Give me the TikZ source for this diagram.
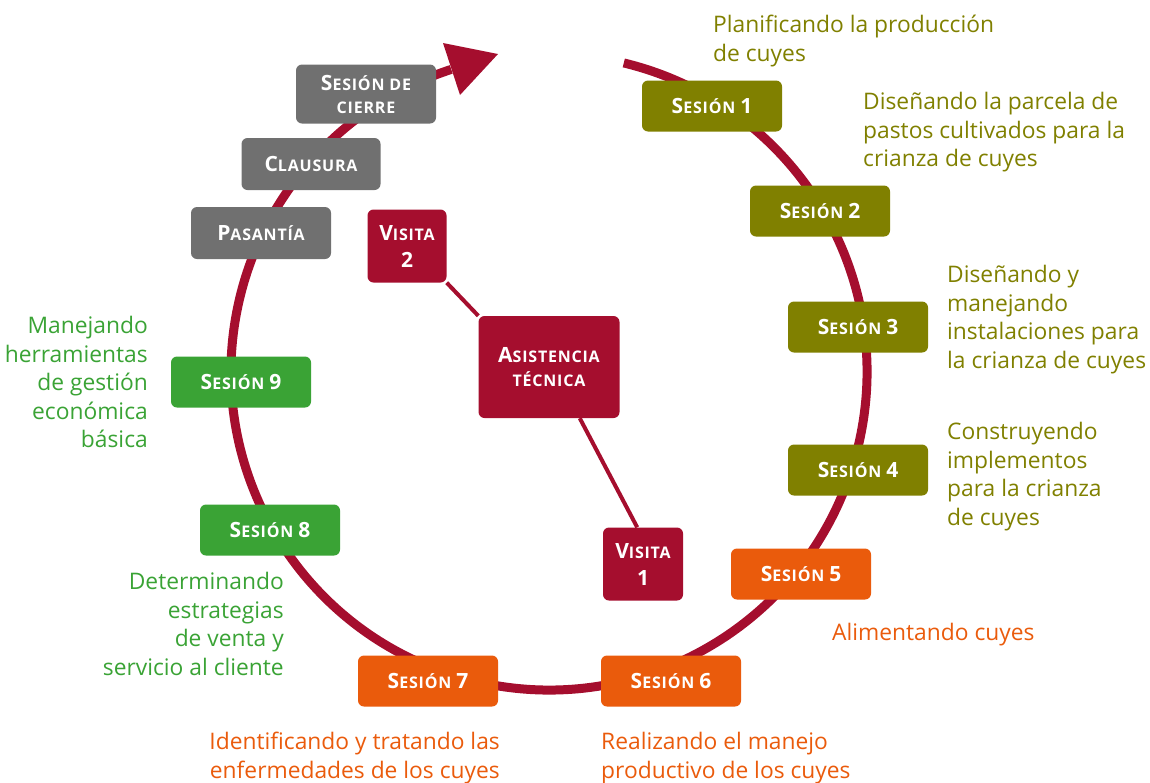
\documentclass[tikz,border=0pt]{standalone}
\usepackage{fontspec}
\setmainfont{Open Sans}
\newfontfamily\boxfont{Open Sans}[LetterSpace=5]
\usetikzlibrary{calc}
\pgfdeclarelayer{background}
\pgfsetlayers{background,main}
\definecolor{crim}{RGB}{165,14,46}
\definecolor{olivec}{RGB}{128,128,0}
\definecolor{orangec}{RGB}{234,91,12}
\definecolor{greenc}{RGB}{58,163,53}
\definecolor{grayc}{RGB}{112,112,112}
\newcommand\scA[1]{{\fontsize{21}{23}\selectfont #1}}
\newcommand\scB[1]{{\fontsize{16}{23}\selectfont #1}}
\begin{document}
\begin{tikzpicture}[x=1pt,y=-1pt,
  box/.style={rounded corners=6pt, minimum width=140pt, minimum height=51pt,
    text=white, align=center, inner sep=0pt, font=\boxfont\bfseries\fontsize{16}{23}\selectfont},
  sesbox/.style={box, fill=#1},
  visbox/.style={box, fill=crim, minimum width=80pt, minimum height=73pt, font=\boxfont\bfseries\fontsize{16}{27}\selectfont},
  lab/.style={inner sep=0pt, text=#1, font=\fontsize{22.8}{28.5}\selectfont},
  labl/.style={lab=#1, align=left, anchor=north west},
  labr/.style={lab=#1, align=right, anchor=north east},
  cyc/.style={draw=crim, line width=9pt},
  conn/.style={draw=crim, line width=4pt}]
\useasboundingbox (0,0) rectangle (1150,782);

% boxes
\node[sesbox=grayc, minimum height=59pt] (cierre) at (366,94) {\scA{S}\scB{ESIÓN DE}\\\scB{CIERRE}};
\node[sesbox=grayc, minimum width=139pt, minimum height=52pt] (clausura) at (311,164) {\scA{C}\scB{LAUSURA}};
\node[sesbox=grayc, minimum height=52pt] (pasantia) at (261,233) {\scA{P}\scB{ASANTÍA}};
\node[visbox, minimum width=79pt] (v2) at (407,246) {\scA{V}\scB{ISITA}\\\scA{2}};
\node[box, fill=crim, minimum width=141pt, minimum height=102pt, font=\boxfont\bfseries\fontsize{16}{24}\selectfont] (at) at (549,367) {\scA{A}\scB{SISTENCIA}\\\scB{TÉCNICA}};
\node[visbox] (v1) at (643,564) {\scA{V}\scB{ISITA}\\\scA{1}};

\node[sesbox=olivec] (s1) at (712,106) {\scA{S}\scB{ESIÓN} \scA{1}};
\node[sesbox=olivec] (s2) at (820,211) {\scA{S}\scB{ESIÓN} \scA{2}};
\node[sesbox=olivec] (s3) at (858,327) {\scA{S}\scB{ESIÓN} \scA{3}};
\node[sesbox=olivec] (s4) at (858,470) {\scA{S}\scB{ESIÓN} \scA{4}};
\node[sesbox=orangec] (s5) at (801,574) {\scA{S}\scB{ESIÓN} \scA{5}};
\node[sesbox=orangec] (s6) at (671,681) {\scA{S}\scB{ESIÓN} \scA{6}};
\node[sesbox=orangec] (s7) at (428,681) {\scA{S}\scB{ESIÓN} \scA{7}};
\node[sesbox=greenc] (s8) at (270,530) {\scA{S}\scB{ESIÓN} \scA{8}};
\node[sesbox=greenc] (s9) at (241,382) {\scA{S}\scB{ESIÓN} \scA{9}};

% labels
\node[labl=olivec] (l1) at (713,15) {Planificando la producción\\de cuyes};
\node[labl=olivec] (l2) at (863,92) {Diseñando la parcela de\\pastos cultivados para la\\crianza de cuyes};
\node[labl=olivec] (l3) at (947,265) {Diseñando y\\manejando\\instalaciones para\\la crianza de cuyes};
\node[labl=olivec] (l4) at (947,422) {Construyendo\\implementos\\para la crianza\\de cuyes};
\node[labl=orangec] (l5) at (832,623) {Alimentando cuyes};
\node[labl=orangec] (l6) at (601,732) {Realizando el manejo\\productivo de los cuyes};
\node[labr=orangec] (l7) at (500,732) {Identificando y tratando las\\enfermedades de los cuyes};
\node[labr=greenc] (l8) at (284,572) {Determinando\\estrategias\\de venta y\\servicio al cliente};
\node[labr=greenc] (l9) at (148,316) {Manejando\\herramientas\\de gestión\\económica\\básica};

% cycle and connectors behind
\begin{pgfonlayer}{background}
\coordinate (c) at (549,372);
\draw[cyc] ($(c)+(-76.4:318)$) arc[start angle=-76.4, end angle=252.1, radius=318];
\coordinate (tipA) at (443,43);
\coordinate (tipB) at (498,54);
\coordinate (tipC) at (460,95);
\fill[crim] (tipA) -- (tipB) -- (tipC) -- cycle;
\draw[conn] (v2.south east) -- (at.north west);
\draw[conn] (at.-59) -- (v1.99);
\end{pgfonlayer}
\end{tikzpicture}
\end{document}
